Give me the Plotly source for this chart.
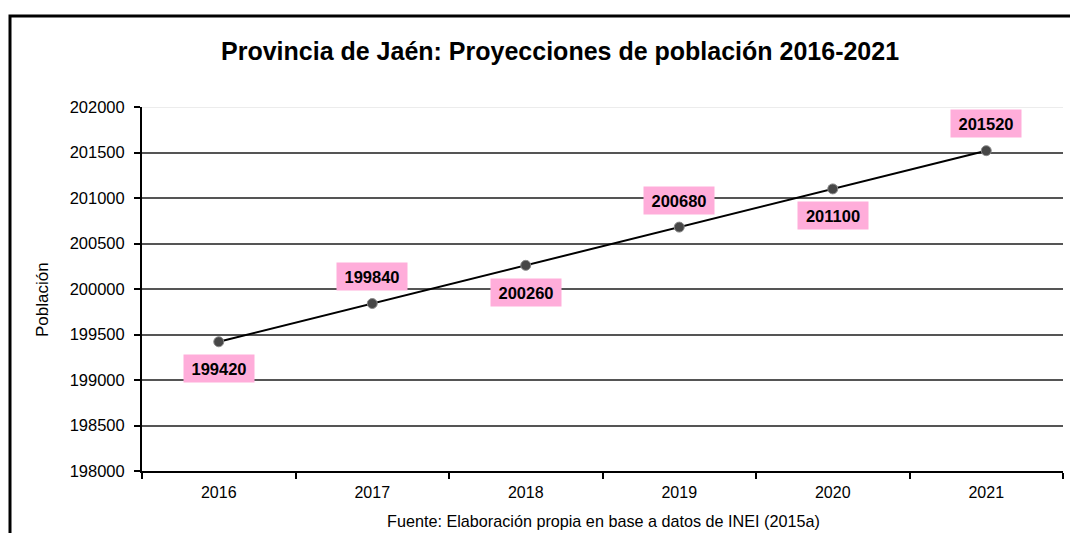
import plotly.graph_objects as go

# ---- data ----
years = ["2016", "2017", "2018", "2019", "2020", "2021"]
population = [199420, 199840, 200260, 200680, 201100, 201520]
y_ticks = [198000, 198500, 199000, 199500, 200000, 200500, 201000, 201500, 202000]

title_text = "Provincia de Jaén: Proyecciones de población 2016-2021"
y_title = "Población"
source_text = "Fuente: Elaboración propia en base a datos de INEI (2015a)"

# ---- style ----
FONT = "Liberation Sans, Arial, sans-serif"
PINK = "#FFADDA"
label_side = [-1, 1, -1, 1, -1, 1]  # below / above alternating

fig = go.Figure()
fig.add_trace(go.Scatter(
    x=years, y=population, mode="lines+markers",
    line=dict(color="black", width=2),
    marker=dict(symbol="circle", size=10, color="#474747",
                line=dict(color="#8a8a8a", width=1)),
    showlegend=False, hoverinfo="skip",
))

for i, (val, side) in enumerate(zip(population, label_side)):
    fig.add_annotation(
        x=i, y=val, xref="x", yref="y", text=f"<b>{val}</b>",
        showarrow=False, bgcolor=PINK, borderpad=4,
        font=dict(family=FONT, size=16.5, color="black"),
        yshift=27 * side, width=62, height=19,
    )

fig.add_annotation(
    text=f"<b>{title_text}</b>", xref="paper", yref="paper",
    x=(560 - 142) / 921, y=(471 - 51) / 364, xanchor="center", yanchor="middle",
    showarrow=False, font=dict(family=FONT, size=25, color="black"),
)
fig.add_annotation(
    text=source_text, xref="paper", yref="paper",
    x=(603 - 142) / 921, y=(471 - 521) / 364, xanchor="center", yanchor="middle",
    showarrow=False, font=dict(family=FONT, size=16.2, color="black"),
)
fig.add_annotation(
    text=y_title, xref="paper", yref="paper", textangle=-90,
    x=(42 - 142) / 921, y=(471 - 300) / 364, xanchor="center", yanchor="middle",
    showarrow=False, font=dict(family=FONT, size=17, color="black"),
)

# outer frame (extends beyond the canvas at right and bottom)
fig.add_shape(type="rect", xref="paper", yref="paper",
              x0=(10 - 142) / 921, x1=1.2, y0=-0.5, y1=(471 - 16) / 364,
              line=dict(color="black", width=3), fillcolor="rgba(0,0,0,0)",
              layer="above")
# faint top gridline
fig.add_shape(type="line", xref="paper", yref="y", x0=0, x1=1,
              y0=y_ticks[-1], y1=y_ticks[-1],
              line=dict(color="#ececec", width=2), layer="above")

fig.update_xaxes(
    type="category", range=[-0.5, len(years) - 0.5], autorange=False,
    tickson="boundaries", ticks="outside", ticklen=6, tickangle=0,
    tickwidth=2, tickcolor="black", showline=True, linecolor="black",
    linewidth=2, showgrid=False, mirror=False, automargin=False,
    ticklabelstandoff=6,
    tickfont=dict(family=FONT, size=16, color="black"),
)
fig.update_yaxes(
    range=[y_ticks[0], y_ticks[-1]], tickvals=y_ticks, tickformat="d",
    ticks="outside", automargin=False, ticklabelstandoff=6,
    ticklen=6, tickwidth=2, tickcolor="black", showline=True,
    linecolor="black", linewidth=2, showgrid=True, gridcolor="#555555",
    gridwidth=2, zeroline=False,
    tickfont=dict(family=FONT, size=16.5, color="black"),
)

fig.update_layout(
    width=1070, height=533, autosize=False,
    margin=dict(l=142, r=7, t=107, b=62, autoexpand=False),
    paper_bgcolor="white", plot_bgcolor="white",
    font=dict(family=FONT),
)

fig.write_html("out.html", config={"displayModeBar": False},
               post_script="document.body.style.margin='0';document.body.style.overflow='hidden';")
